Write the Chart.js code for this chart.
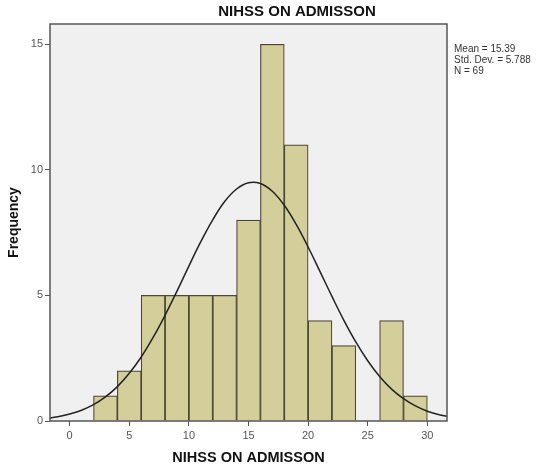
<!DOCTYPE html>
<html>
<head>
<meta charset="utf-8">
<script src="https://cdn.jsdelivr.net/npm/chart.js@4"></script>
<style>
  html, body { margin: 0; padding: 0; background: #fff; }
  #wrap { width: 538px; height: 465px; }
</style>
</head>
<body>
<div id="wrap"><canvas id="histChart" width="538" height="465"></canvas></div>
<script>
// histogram bins (width 2), centre of each bin and its count
const binCenters = [3, 5, 7, 9, 11, 13, 15, 17, 19, 21, 23, 25, 27, 29];
const binCounts  = [1, 2, 5, 5, 5, 5, 8, 15, 11, 4, 3, 0, 4, 1];

// normal curve
const curveX = [-2, -1, 0, 1, 2, 3, 4, 5, 6, 7, 8, 9, 10, 11, 12, 13, 14, 15, 16, 17, 18, 19, 20, 21, 22, 23, 24, 25, 26, 27, 28, 29, 30, 31, 32];
const curveY = [0.10, 0.17, 0.28, 0.43, 0.65, 0.96, 1.37, 1.90, 2.55, 3.33, 4.21, 5.17, 6.17, 7.14, 8.01, 8.74, 9.24, 9.49, 9.46, 9.15, 8.59, 7.83, 6.93, 5.95, 4.96, 4.01, 3.15, 2.40, 1.77, 1.27, 0.89, 0.60, 0.39, 0.25, 0.16];

const statLines = ['Mean = 15.39', 'Std. Dev. = 5.788', 'N = 69'];
const chartTitle = 'NIHSS ON ADMISSON';

const frame = {
    id: 'frame',
    beforeDraw(chart) {
        const { ctx, chartArea: a } = chart;
        ctx.save();
        ctx.fillStyle = '#f0f0f0';
        ctx.fillRect(a.left, a.top, a.right - a.left, a.bottom - a.top);
        ctx.restore();
    },
    afterDraw(chart) {
        const { ctx, chartArea: a } = chart;
        ctx.save();
        ctx.strokeStyle = '#555';
        ctx.lineWidth = 1.5;
        ctx.strokeRect(a.left, a.top, a.right - a.left, a.bottom - a.top);

        // title
        ctx.fillStyle = '#111';
        ctx.font = 'bold 15px Arial, "Liberation Sans", sans-serif';
        ctx.textAlign = 'center';
        ctx.textBaseline = 'middle';
        ctx.fillText(chartTitle, 297, 12);

        // stats box
        ctx.fillStyle = '#333';
        ctx.font = '10px Arial, "Liberation Sans", sans-serif';
        ctx.textAlign = 'left';
        statLines.forEach((t, i) => ctx.fillText(t, a.right + 7, 49 + i * 11));
        ctx.restore();
    }
};

const ctx = document.getElementById('histChart').getContext('2d');
new Chart(ctx, {
    data: {
        datasets: [{
            type: 'line',
            data: curveX.map((x, i) => ({ x: x, y: curveY[i] })),
            borderColor: '#222',
            borderWidth: 1.5,
            pointRadius: 0,
            tension: 0.4,
            fill: false,
            order: 0
        }, {
            type: 'bar',
            data: binCenters.map((x, i) => ({ x: x, y: binCounts[i] })),
            backgroundColor: '#d4cf9a',
            borderColor: '#4a4732',
            borderWidth: 1.2,
            barPercentage: 1,
            categoryPercentage: 1,
            grouped: false,
            order: 1
        }]
    },
    options: {
        responsive: false,
        animation: false,
        layout: { padding: { top: 24, right: 91, left: 0, bottom: 0 } },
        plugins: {
            legend: { display: false },
            tooltip: { enabled: false }
        },
        scales: {
            x: {
                type: 'linear',
                offset: false,
                min: -1.65,
                max: 31.65,
                afterFit(scale) { scale.height = 44; },
                ticks: {
                    stepSize: 5,
                    includeBounds: false,
                    color: '#555',
                    font: { family: 'Arial', size: 11 },
                    padding: 3
                },
                grid: { drawOnChartArea: false, drawTicks: true, tickLength: 5, color: '#555', offset: false },
                border: { display: false },
                title: {
                    display: true,
                    text: 'NIHSS ON ADMISSON',
                    color: '#111',
                    font: { family: 'Arial', size: 14.5, weight: 'bold', lineHeight: 1 },
                    padding: { top: 0, bottom: 0 }
                }
            },
            y: {
                type: 'linear',
                min: 0,
                max: 15.81,
                afterFit(scale) { scale.width = 50; },
                ticks: {
                    stepSize: 5,
                    includeBounds: false,
                    color: '#555',
                    font: { family: 'Arial', size: 11 },
                    padding: 2
                },
                grid: { drawOnChartArea: false, drawTicks: true, tickLength: 5, color: '#555' },
                border: { display: false },
                title: {
                    display: true,
                    text: 'Frequency',
                    color: '#111',
                    font: { family: 'Arial', size: 14, weight: 'bold' },
                    padding: { top: 6, bottom: 0 }
                }
            }
        }
    },
    plugins: [frame]
});
</script>
</body>
</html>
